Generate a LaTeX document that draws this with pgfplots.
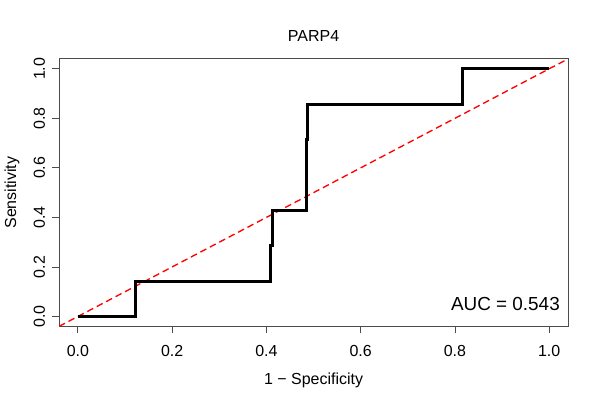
\documentclass[border=0pt]{standalone}
\usepackage{pgfplots}
\pgfplotsset{compat=1.18}
\usepackage{fontspec}
\setmainfont{Liberation Sans}
\begin{document}
\begin{tikzpicture}[x=1pt,y=1pt]
\path (0,0) rectangle (450,300);
\begin{axis}[
  at={(43.5pt,54.75pt)}, anchor=south west,
  scale only axis, width=382.5pt, height=201pt,
  xmin=-0.04, xmax=1.04, ymin=-0.04, ymax=1.04,
  axis line style={draw=black!70, line width=0.6pt},
  tick style={draw=black!70, line width=0.6pt},
  tick align=outside, major tick length=5.25pt,
  xtick pos=bottom, ytick pos=left,
  xtick={0,0.2,0.4,0.6,0.8,1}, ytick={0,0.2,0.4,0.6,0.8,1},
  xticklabels={0.0,0.2,0.4,0.6,0.8,1.0},
  yticklabels={0.0,0.2,0.4,0.6,0.8,1.0},
  tick label style={font=\fontsize{12}{14}\selectfont},
  yticklabel style={rotate=90, anchor=south},
  xticklabel shift=5.2pt,
  yticklabel shift=1.7pt,
  /pgf/number format/assume math mode=true,
  title={PARP4}, title style={font=\fontsize{12}{14}\selectfont, yshift=3.5pt},
  xlabel={1 − Specificity}, ylabel={Sensitivity},
  label style={font=\fontsize{12}{14}\selectfont},
  xlabel style={yshift=-5.3pt},
  ylabel style={yshift=4pt},
  clip=true,
]
\addplot[red, line width=1pt, dash pattern=on 5pt off 3pt] coordinates {(-0.04,-0.04) (1.04,1.04)};
\addplot[black, line width=2.2pt, line join=miter] coordinates {
(0,0) (0.123,0) (0.123,0.143) (0.409,0.143) (0.409,0.286) (0.412,0.286) (0.412,0.429)
(0.4845,0.429) (0.4845,0.714) (0.488,0.714) (0.488,0.857) (0.816,0.857) (0.816,1) (1,1)};
\node[anchor=base east, font=\fontsize{14.2}{17}\selectfont, inner sep=0pt] at (axis cs:1.023,0.024) {AUC = 0.543};
\end{axis}
\end{tikzpicture}
\end{document}
